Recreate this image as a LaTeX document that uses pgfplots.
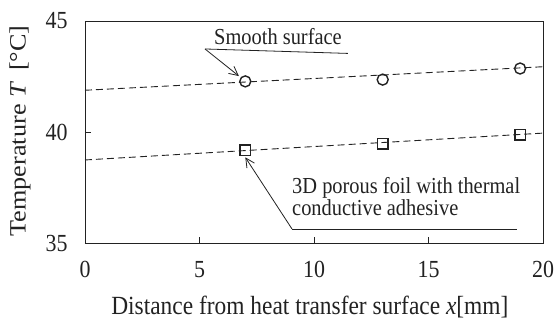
\documentclass[border=0pt]{standalone}
\usepackage{pgfplots}
\pgfplotsset{compat=1.18}
\usepackage{fontspec}
\usepackage{graphicx}
\setmainfont{Liberation Serif}
\usetikzlibrary{arrows.meta,calc}
\definecolor{ink}{HTML}{222222}
\newcommand\vs[1]{\scalebox{1}[1.12]{#1}}
\begin{document}
\begin{tikzpicture}
\begin{axis}[name=ax,
  scale only axis, width=458bp, height=222bp,
  xmin=0, xmax=20, ymin=35, ymax=45,
  xtick={0,5,10,15,20}, ytick={35,40,45},
  tick align=inside, xtick pos=bottom, ytick pos=left,
  major tick length=6bp,
  axis line style={ink, line width=0.9bp},
  tick style={ink, line width=0.9bp},
  /pgf/number format/assume math mode=true,
  ticklabel style={font=\fontsize{22}{26}\selectfont, text=ink},
  xticklabel={\vs{\pgfmathprintnumber{\tick}}},
  yticklabel={\vs{\pgfmathprintnumber{\tick}}},
  xticklabel style={yshift=-15bp},
  yticklabel style={xshift=-14bp},
  clip mode=individual,
]
\addplot[ink, line width=0.9bp, dash pattern=on 7bp off 4bp] coordinates {(0,41.88) (20,42.94)};
\addplot[ink, line width=0.9bp, dash pattern=on 7bp off 4bp] coordinates {(0,38.74) (20,39.95)};
\addplot[only marks, mark=o, mark size=5.5bp, mark options={ink, line width=1.4bp, fill=white}] coordinates {(7,42.28) (13,42.36) (19,42.86)};
\addplot[only marks, mark=square, mark size=5.2bp, mark options={ink, line width=1.4bp, fill=white}] coordinates {(7,39.18) (13,39.46) (19,39.88)};
% annotations
\node[anchor=base west, inner sep=0pt, font=\fontsize{20.5}{24}\selectfont, text=ink] at (axis cs:5.633,43.92) {\vs{Smooth surface}};
\draw[ink, line width=0.8bp] (axis cs:11.48,43.54) -- (axis cs:5.24,43.74);
\draw[ink, line width=0.8bp, -{Straight Barb[length=9bp, width=9bp]}] (axis cs:5.24,43.74) -- (axis cs:6.72,42.52);
\node[anchor=base west, inner sep=0pt, font=\fontsize{20.5}{24}\selectfont, text=ink] at (axis cs:9.04,37.25) {\vs{3D porous foil with thermal}};
\node[anchor=base west, inner sep=0pt, font=\fontsize{20.5}{24}\selectfont, text=ink] at (axis cs:9.04,36.26) {\vs{conductive adhesive}};
\draw[ink, line width=0.8bp] (axis cs:18.86,35.63) -- (axis cs:9.04,35.63);
\draw[ink, line width=0.8bp, -{Straight Barb[length=9bp, width=9bp]}] (axis cs:9.04,35.63) -- (axis cs:7.0,38.86);
% labels
\node[rotate=90, anchor=center, font=\fontsize{23.5}{28}\selectfont, text=ink] at (axis description cs:-0.142,0.505) {\scalebox{1.12}[1]{Temperature \textit{T}\, [°C]}};
\node[anchor=center, font=\fontsize{23.5}{28}\selectfont, text=ink] at (axis description cs:0.491,-0.29) {\vs{Distance from heat transfer surface \textit{x}[mm]}};
\end{axis}
\pgfresetboundingbox
\path ($(ax.south west)+(-85bp,-77bp)$) rectangle ($(ax.south west)+(472bp,243bp)$);
\end{tikzpicture}
\end{document}
